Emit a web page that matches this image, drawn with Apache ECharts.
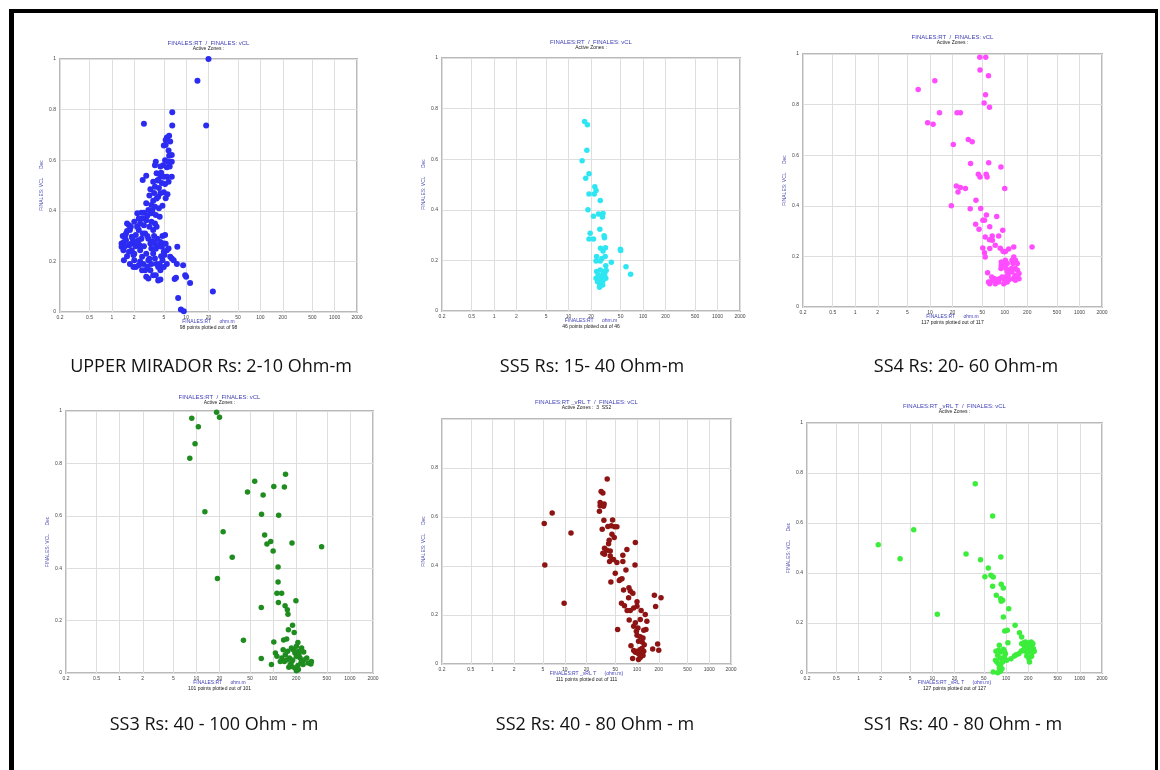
<!DOCTYPE html>
<html><head><meta charset="utf-8">
<script src="https://cdn.jsdelivr.net/npm/echarts@6/dist/echarts.min.js"></script>
<style>html,body{margin:0;padding:0;background:#fff;}#c{width:1160px;height:770px;}</style>
</head><body><div id="c"></div>
<script>
// ---------- DATA ----------
const xTicks = [0.2, 0.5, 1, 2, 5, 10, 20, 50, 100, 200, 500, 1000, 2000];

const captions = [
  'UPPER MIRADOR Rs: 2-10 Ohm-m', 'SS5 Rs: 15- 40 Ohm-m', 'SS4 Rs: 20- 60 Ohm-m',
  'SS3 Rs: 40 - 100 Ohm - m', 'SS2 Rs: 40 - 80 Ohm - m', 'SS1 Rs: 40 - 80 Ohm - m'
];
const plotTitles = [
  'FINALES:RT  /  FINALES: vCL', 'FINALES:RT  /  FINALES: vCL', 'FINALES:RT  /  FINALES: vCL',
  'FINALES:RT  /  FINALES: vCL', 'FINALES:RT _vRL T  /  FINALES: vCL', 'FINALES:RT _vRL T  /  FINALES: vCL'
];
const subTitles = ['Active Zones :', 'Active Zones :', 'Active Zones :', 'Active Zones :', 'Active Zones :  3  SS2', 'Active Zones :'];
const xNames = ['FINALES:RT      ohm.m', 'FINALES:RT      ohm.m', 'FINALES:RT      ohm.m', 'FINALES:RT      ohm.m',
  'FINALES:RT _vRL T      (ohm.m)', 'FINALES:RT _vRL T      (ohm.m)'];
const footNotes = ['98 points plotted out of 98', '46 points plotted out of 46', '117 points plotted out of 117',
  '101 points plotted out of 101', '111 points plotted out of 111', '127 points plotted out of 127'];
const yName = 'FINALES: VCL      Dec';

const upperMirador = [
  [20,1.0],[14.2,0.914],[18.6,0.737],[2.7,0.744],[6.5,0.79],[6.5,0.737],[22.9,0.081],[7.8,0.055],[8.5,0.01],[9.3,0.003],
  [11.3,0.115],[10,0.139],[9.7,0.145],[9.1,0.185],[7.6,0.258],[7.5,0.19],[7.0,0.13],[7.3,0.135],
  [5.5,0.69],[5.9,0.697],[5.3,0.68],[6.1,0.674],[5.0,0.658],[5.3,0.66],[5.8,0.638],[6.4,0.621],[5.9,0.618],[6.4,0.594],[5.7,0.594],
  [3.9,0.594],[3.8,0.58],[4.9,0.58],[4.5,0.575],[6.0,0.575],[5.5,0.572],
  [2.9,0.539],[2.6,0.522],[4.0,0.548],[4.5,0.535],[5.0,0.535],[5.5,0.535],[6.4,0.535],[3.6,0.515],[4.2,0.522],[4.7,0.51],[5.2,0.506],[5.8,0.515],
  [3.3,0.485],[3.8,0.495],[4.5,0.469],[5.0,0.473],[5.6,0.465],[5.3,0.45],[4.2,0.456],[3.6,0.44],[2.9,0.43],[3.4,0.423],[3.8,0.416],[4.0,0.449],
  [3.1,0.403],[2.7,0.392],[2.5,0.392],[2.2,0.39],[3.4,0.39],[3.9,0.383],[4.4,0.376],[2.9,0.363],[3.4,0.357],[3.8,0.35],[2.3,0.37],
  [2.7,0.343],[3.2,0.337],[4.0,0.337],[3.6,0.324],[1.6,0.35],[1.7,0.343],[1.8,0.337],[2.0,0.357],[2.3,0.324],[2.2,0.337],
  [3.2,0.46],[4.3,0.49],[4.8,0.42],[3.0,0.38],[3.5,0.40],[2.6,0.37],[4.6,0.55],[4.1,0.52],[5.2,0.6],[2.4,0.35],[4.3,0.41],[3.7,0.47],
  [1.35,0.271],[1.35,0.258],[1.43,0.244],[1.45,0.205],[1.55,0.31],[1.55,0.284],[1.7,0.264],[1.7,0.238],[1.75,0.324],[1.85,0.297],
  [1.9,0.271],[1.85,0.244],[1.95,0.225],[2.0,0.205],[2.1,0.178],[2.1,0.304],[2.3,0.284],[2.35,0.264],[2.4,0.244],[2.55,0.218],
  [2.65,0.19],[2.8,0.165],[2.9,0.139],[3.1,0.132],[2.8,0.31],[3.1,0.29],[3.3,0.271],[3.4,0.251],[3.6,0.231],[3.8,0.211],
  [4.0,0.19],[4.2,0.178],[3.8,0.271],[4.1,0.29],[4.5,0.277],[4.7,0.258],[5.0,0.238],[5.1,0.225],[4.8,0.205],[5.5,0.19],
  [5.2,0.304],[5.0,0.271],[5.5,0.244],[4.5,0.165],[5.0,0.178],[4.2,0.125],[4.5,0.128],[3.6,0.145],[3.9,0.145],[5.8,0.251],
  [6.1,0.218],[6.4,0.211],[6.8,0.205],[3.4,0.19],[3.3,0.165],[3.1,0.205],[2.55,0.165],[2.3,0.185],[1.75,0.19],[1.95,0.178],
  [1.5,0.297],[1.45,0.277],[2.2,0.337],
  [1.4,0.30],[1.5,0.26],[1.6,0.22],[1.9,0.29],[2.1,0.26],[2.0,0.23],[2.5,0.29],[2.7,0.26],[2.9,0.23],[3.0,0.30],
  [3.5,0.28],[3.7,0.30],[4.3,0.26],[4.6,0.22],[3.2,0.21],[2.4,0.20],[1.8,0.27],[2.6,0.31],[3.0,0.18],[4.8,0.30],
  [5.3,0.27],[3.9,0.25],[4.4,0.19],[2.2,0.28],[1.6,0.32]
];

const ss5 = [
  [16.4,0.749],[17.9,0.736],[17.6,0.635],[15.2,0.594],[17.0,0.525],[18.8,0.542],[22.5,0.491],[23.4,0.476],[22.1,0.462],[18.8,0.462],
  [26.6,0.437],[18.2,0.4],[21.6,0.375],[25.2,0.383],[28,0.38],[28.5,0.372],[29,0.385],[26.3,0.323],[19.5,0.307],[18.8,0.285],
  [21.6,0.285],[30,0.297],[30.3,0.29],[26.8,0.248],[31.3,0.25],[29,0.237],[49.6,0.244],[50,0.239],[23.8,0.215],[28,0.208],
  [31,0.215],[37.5,0.193],[23.4,0.198],[26.6,0.198],[31.6,0.179],[59,0.175],[68,0.145],
  [23.8,0.156],[26.6,0.162],[29.4,0.156],[32,0.16],[25,0.142],[28,0.139],[30.5,0.145],[23.4,0.129],[26.6,0.125],[29.4,0.129],
  [31.6,0.129],[24.5,0.116],[27.5,0.112],[29,0.12],[26.3,0.103],[28.7,0.103],[26,0.094]
];

const ss4 = [
  [6.95,0.86],[11.6,0.894],[13.4,0.768],[9.3,0.728],[11.0,0.722],[23.0,0.768],[25.5,0.768],[20.5,0.642],[32.5,0.662],[36.7,0.653],
  [46.3,0.987],[55.7,0.987],[46.7,0.937],[60.6,0.914],[55.3,0.839],[53,0.806],[62.5,0.79],[34.9,0.567],[61,0.57],[89,0.553],
  [44.3,0.525],[46.7,0.514],[56.4,0.525],[58,0.514],[22.5,0.478],[25.5,0.472],[23.7,0.455],[29.8,0.468],[100,0.468],[19.3,0.4],
  [41.2,0.422],[34.5,0.388],[47.7,0.389],[56.9,0.364],[53.5,0.343],[51,0.343],[78,0.358],[40.8,0.327],[45.3,0.307],[63,0.317],
  [94,0.303],[54.8,0.277],[62.5,0.266],[68,0.281],[68.3,0.264],[83,0.281],[74.6,0.244],[87,0.232],[63,0.231],[50.8,0.233],
  [98,0.218],[95,0.22],[102,0.219],[113,0.229],[132,0.237],[232,0.237],[53.5,0.214],[54.8,0.198],
  [132,0.198],[139,0.185],[147,0.172],[125,0.185],[129,0.172],[102,0.185],[108,0.172],[90,0.178],[90,0.165],[89,0.152],
  [97,0.165],[104,0.152],[113,0.145],[123,0.152],[139,0.152],[148,0.145],[155,0.132],[137,0.125],[146,0.119],[128,0.112],
  [111,0.125],[102,0.119],[97,0.112],[108,0.139],[113,0.108],[108,0.099],[92,0.119],[85,0.112],[79,0.108],[73,0.112],
  [68,0.106],[63,0.092],[60.6,0.099],[74.6,0.092],[83,0.099],[67,0.119],[59,0.135],[97,0.092],[102,0.099],[119,0.139],
  [125,0.139],[155,0.112],[139,0.106]
];

const ss3 = [
  [18.3,0.995],[8.7,0.972],[20,0.976],[10.6,0.94],[9.6,0.875],[8.2,0.82],[145,0.759],[57.5,0.732],[102,0.712],[140,0.71],
  [46.3,0.691],[74,0.679],[12.9,0.615],[70.6,0.606],[118,0.602],[22.3,0.539],[77.5,0.527],[93,0.502],[83,0.492],[176,0.496],
  [100,0.466],[428,0.482],[29.3,0.442],[116,0.405],[18.8,0.361],[116,0.347],[112,0.304],[129,0.304],[198,0.276],[117,0.269],
  [70,0.25],[143,0.257],[153,0.241],[156,0.224],[179,0.182],[158,0.165],[188,0.155],[137,0.126],[150,0.13],[41,0.125],
  [102,0.118],[210,0.116],
  [107,0.076],[112,0.064],[70,0.055],[95,0.032],[135,0.089],[144,0.07],[155,0.083],[163,0.057],[175,0.044],[167,0.032],
  [183,0.089],[192,0.076],[201,0.064],[213,0.083],[224,0.057],[235,0.044],[246,0.032],[210,0.029],[192,0.019],[213,0.013],
  [201,0.009],[250,0.08],[274,0.057],[286,0.038],[310,0.034],[315,0.044],[160,0.022],[175,0.025],[140,0.044],[124,0.044],
  [130,0.057],[150,0.05],[180,0.05],[230,0.038],[250,0.05],[173,0.095],[201,0.102],[235,0.095],[217,0.07]
];

const ss2 = [
  [38.7,0.755],[31.9,0.704],[33.7,0.698],[30.9,0.659],[35.1,0.653],[30.9,0.646],[34.4,0.644],[30.2,0.623],[6.7,0.616],[5.2,0.573],
  [5.3,0.404],[12.2,0.535],[9.8,0.248],[34.8,0.587],[45.9,0.588],[33,0.55],[39.5,0.561],[44,0.564],[48.9,0.56],[52.7,0.56],
  [45,0.53],[48.4,0.516],[41.2,0.505],[40.4,0.491],[35.5,0.472],[38.3,0.464],[33.7,0.452],[35.5,0.448],[42.6,0.461],[42.6,0.441],
  [45,0.427],[41.7,0.418],[47.4,0.427],[52.7,0.414],[94.9,0.496],[72.5,0.467],[63.7,0.444],[63.7,0.418],[93.9,0.404],[70.3,0.384],
  [50,0.37],[43.5,0.335],[56.9,0.341],[58.7,0.345],[62,0.348],[65.2,0.302],[77.3,0.311],[80.7,0.298],[87.6,0.289],[76.5,0.27],
  [61,0.248],[67,0.238],[73,0.218],[80.7,0.218],[100,0.254],[100,0.236],[90,0.229],[174,0.281],[215,0.27],[181,0.235],
  [78,0.18],[114,0.218],[130,0.202],[137,0.175],[111,0.182],[94.9,0.168],[90,0.154],[103,0.147],[98,0.134],[133,0.141],
  [124,0.138],[53.9,0.141],[100,0.117],[111,0.111],[121,0.106],[105,0.093],[118,0.09],[126,0.079],[82.5,0.075],[90,0.055],
  [94.9,0.048],[100,0.052],[105,0.042],[111,0.059],[117,0.045],[121,0.035],[87,0.022],[111,0.027],[105,0.018],[165,0.061],
  [193,0.082],[200,0.056],[117,0.063],[124,0.052]
];

const ss1 = [
  [1.85,0.513],[3.66,0.457],[5.6,0.573],[11.7,0.235],[38.2,0.757],[65.7,0.628],[28.7,0.476],[45.1,0.453],[85,0.464],[57.4,0.42],
  [51.7,0.385],[62.4,0.391],[67,0.384],[65.7,0.347],[86,0.355],[91.9,0.34],[73.8,0.311],[84.6,0.297],[90,0.291],[86,0.287],
  [108.7,0.257],[92,0.224],[132.7,0.191],[96,0.168],[104,0.171],[152,0.161],[163,0.144],[106,0.121],[81,0.111],
  [73,0.087],[79,0.091],[85,0.084],[92,0.095],[98,0.077],[77,0.071],[83,0.06],[90,0.055],[95,0.064],[102,0.051],
  [75,0.044],[79,0.037],[84,0.031],[90,0.044],[67,0.004],[77,0.001],[84,0.007],[88,0.017],[81,0.02],[72,0.051],[95,0.087],
  [117,0.057],[130,0.068],[137,0.073],[149,0.077],[160,0.087],[169,0.091],
  [174,0.121],[183,0.124],[197,0.117],[208,0.121],[219,0.124],[231,0.117],[178,0.104],[191,0.108],[204,0.1],[219,0.104],
  [235,0.097],[183,0.087],[197,0.084],[211,0.089],[225,0.081],[241,0.087],[191,0.068],[204,0.057],[208,0.044],[222,0.067],[163,0.117]
];

const seriesData = [upperMirador, ss5, ss4, ss3, ss2, ss1];

// ---------- LAYOUT / STYLE ----------
const panels = [
  { g: [60, 59, 297, 253], color: '#2b2bf2', size: 6, titleY: 43, cap: [211, 367] },
  { g: [442, 58, 298, 253], color: '#2ee6f2', size: 5.5, titleY: 42, cap: [592, 367] },
  { g: [803, 54, 299, 253], color: '#ff4cff', size: 5.5, titleY: 37, cap: [966, 367] },
  { g: [66, 411, 307, 262], color: '#1e8c1e', size: 5.5, titleY: 397, cap: [214, 725] },
  { g: [442, 419, 289, 245], color: '#8e1414', size: 5.5, titleY: 402, cap: [595, 725], hideTop: true },
  { g: [807, 423, 295, 250], color: '#3ced3c', size: 5.5, titleY: 406, cap: [963, 725] }
];

const grids = [], xAxes = [], yAxes = [], series = [], graphics = [];
const tiny = '"Liberation Sans"';
panels.forEach((p, i) => {
  const [l, t, w, h] = p.g;
  grids.push({ left: l, top: t, width: w, height: h, show: true, borderColor: '#b9b9b9', borderWidth: 2, backgroundColor: '#fff' });
  xAxes.push({ type: 'log', gridIndex: i, min: 0.2, max: 2000, logBase: 10,
    axisLine: { show: false }, axisTick: { show: false }, axisLabel: { show: false }, splitLine: { show: false } });
  yAxes.push({ type: 'value', gridIndex: i, min: 0, max: 1, interval: 0.2,
    name: yName, nameLocation: 'middle', nameRotate: 90, nameGap: 16,
    nameTextStyle: { fontSize: 5, color: '#4a4ab0', fontFamily: 'Liberation Sans' },
    axisLine: { show: false }, axisTick: { show: false },
    axisLabel: { fontSize: 5, color: '#444', margin: 4, fontFamily: 'Liberation Sans', showMaxLabel: !p.hideTop,
      formatter: v => String(+v.toFixed(1)) },
    splitLine: { lineStyle: { color: '#dedede', width: 1 } } });
  series.push({ type: 'scatter', xAxisIndex: i, yAxisIndex: i, data: seriesData[i], symbol: 'circle', symbolSize: p.size,
    itemStyle: { color: p.color, opacity: 1 }, z: 5,
    markLine: { silent: true, symbol: 'none', animation: false, z: 1,
      lineStyle: { color: '#dedede', width: 1, type: 'solid' },
      label: { show: true, position: 'start', distance: 3, fontSize: 5, color: '#444', fontFamily: 'Liberation Sans',
        formatter: q => String(q.value) },
      emphasis: { disabled: true },
      data: xTicks.map(v => ({ xAxis: v })) } });
  const cx = l + w / 2;
  graphics.push({ type: 'text', x: cx, y: p.titleY, style: { text: plotTitles[i], fill: '#3d3db8', font: '6px ' + tiny, textAlign: 'center', textVerticalAlign: 'middle' } });
  graphics.push({ type: 'text', x: cx, y: p.titleY + 6, style: { text: subTitles[i], fill: '#222', font: '5px ' + tiny, textAlign: 'center', textVerticalAlign: 'middle' } });
  graphics.push({ type: 'text', x: cx, y: t + h + 10, style: { text: xNames[i], fill: '#3d3db8', font: '5px ' + tiny, textAlign: 'center', textVerticalAlign: 'middle' } });
  graphics.push({ type: 'text', x: cx, y: t + h + 16, style: { text: footNotes[i], fill: '#222', font: '5px ' + tiny, textAlign: 'center', textVerticalAlign: 'middle' } });
  graphics.push({ type: 'text', x: p.cap[0], y: p.cap[1], style: { text: captions[i], fill: '#111', font: '18px "Open Sans"', textAlign: 'center', textVerticalAlign: 'middle' } });
});
// black frame
graphics.push({ type: 'rect', shape: { x: 9, y: 9, width: 5, height: 770 }, style: { fill: '#000' } });
graphics.push({ type: 'rect', shape: { x: 9, y: 9, width: 1149, height: 4 }, style: { fill: '#000' } });
graphics.push({ type: 'rect', shape: { x: 1155, y: 9, width: 3, height: 770 }, style: { fill: '#000' } });

const chart = echarts.init(document.getElementById('c'), null, { renderer: 'canvas' });
chart.setOption({ animation: false, backgroundColor: '#fff', grid: grids, xAxis: xAxes, yAxis: yAxes, series: series, graphic: graphics });
</script></body></html>
